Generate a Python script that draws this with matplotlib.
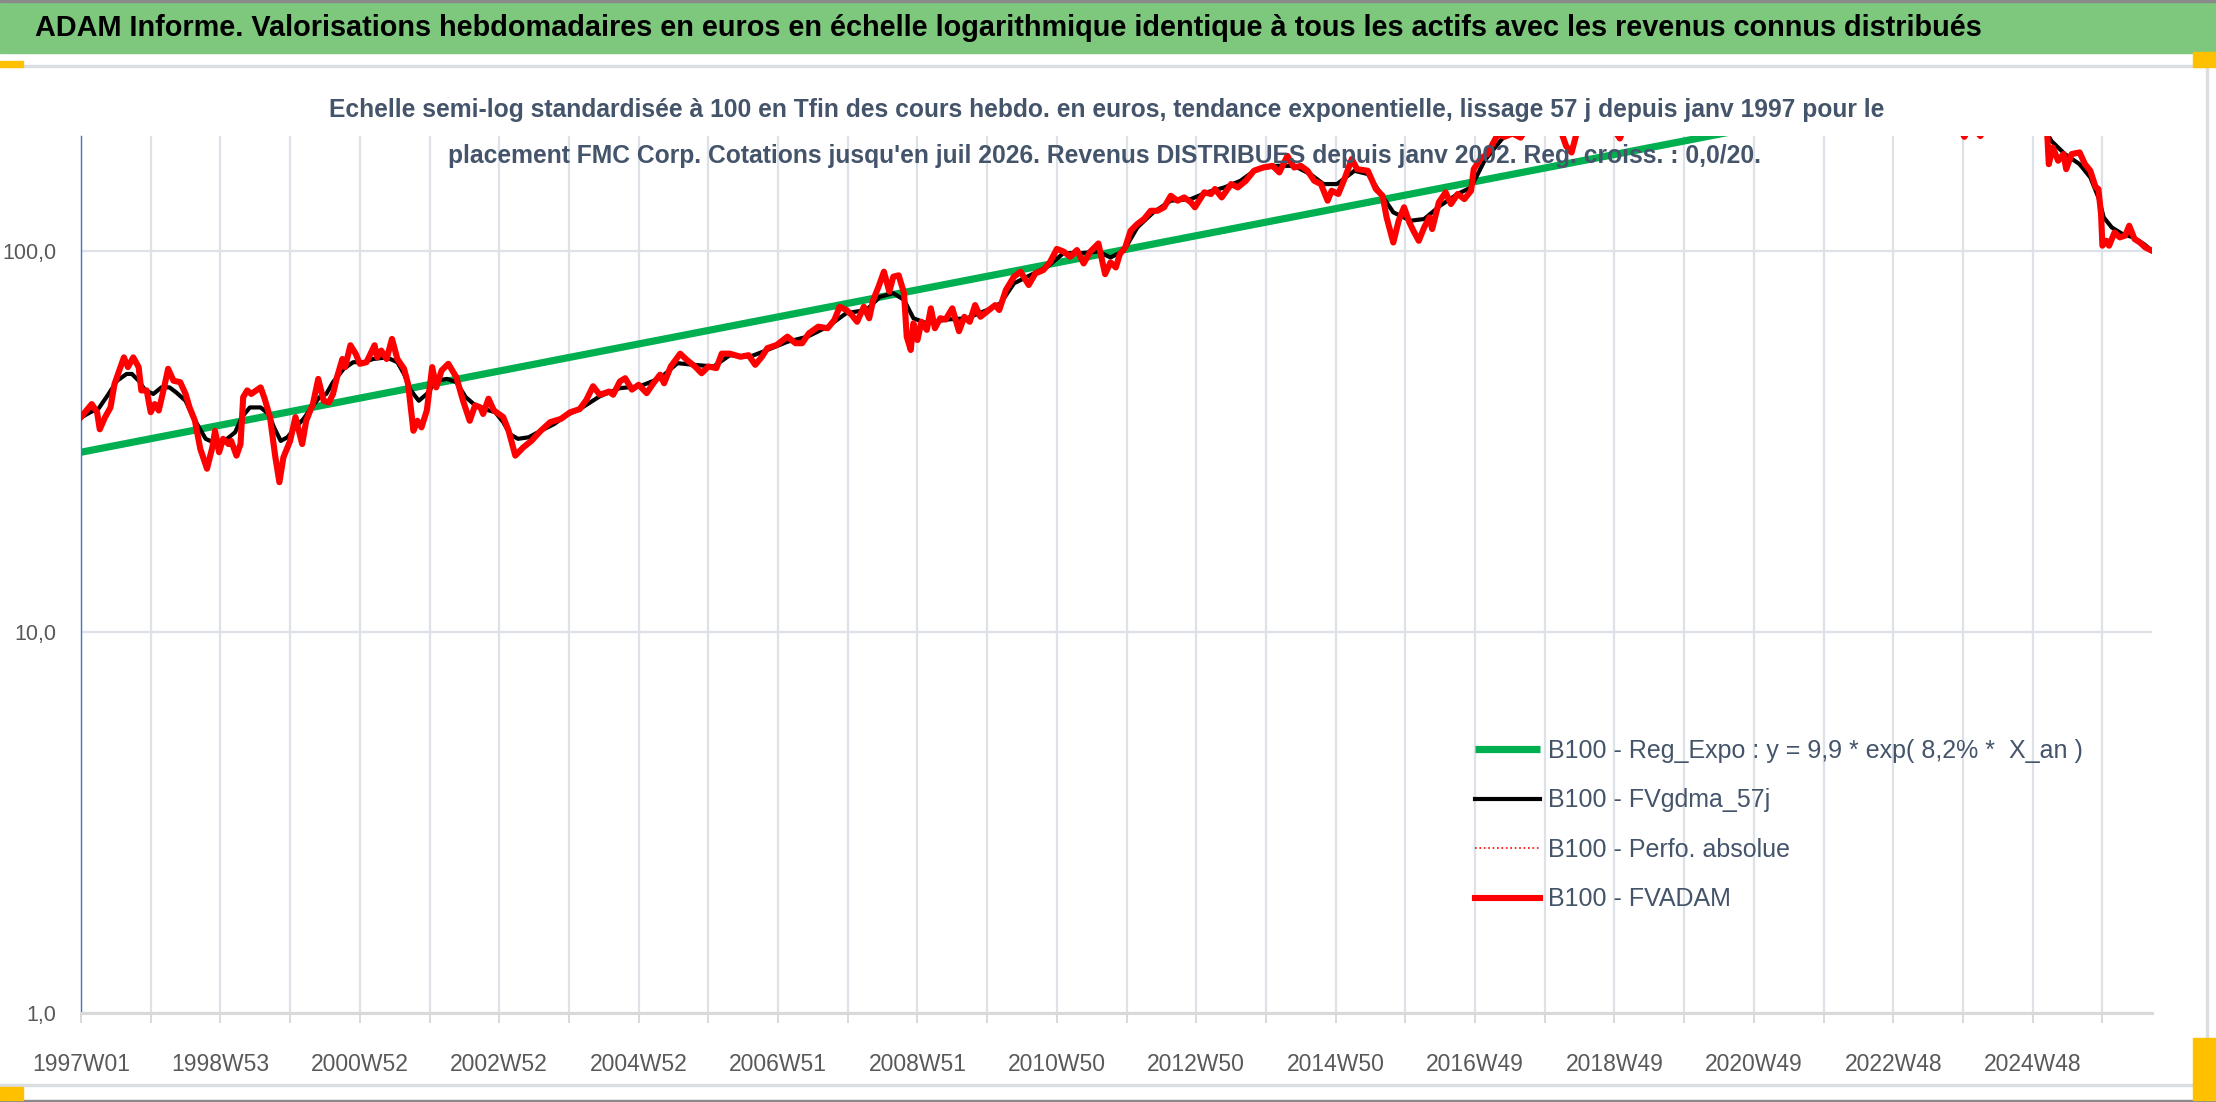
import matplotlib
matplotlib.use("Agg")
import matplotlib.pyplot as plt
from matplotlib.patches import Rectangle
from matplotlib.ticker import FixedLocator, NullLocator, NullFormatter

plt.rcParams["font.family"] = ["Liberation Sans Narrow", "Liberation Sans", "DejaVu Sans"]

W, H = 2216, 1102

# --- données (semaine depuis 1997W01, base 100 en fin) ---
semaines_fvadam = [0, 8, 12, 14, 18, 22, 25, 32, 35, 39, 43, 45, 49, 52, 55, 58, 62, 65, 69, 74, 78, 81, 85, 89, 94,
                   98, 100, 103, 106, 110, 112, 116, 119, 121, 124, 127, 134, 137, 141, 145, 148, 151, 156, 160, 165,
                   168, 173, 177, 181, 185, 188, 191, 195, 197, 201, 205, 208, 213, 219, 221, 224, 228, 232, 236, 241,
                   244, 248, 251, 254, 258, 262, 265, 269, 274, 280, 285, 290, 294, 298, 300, 304, 308, 315, 319, 324,
                   330, 336, 343, 350, 358, 365, 372, 377, 382, 387, 394, 397, 402, 406, 411, 416, 422, 427, 432, 435,
                   440, 447, 452, 458, 463, 468, 474, 478, 484, 492, 498, 503, 508, 512, 519, 527, 533, 538, 543, 550,
                   557, 562, 566, 571, 575, 579, 584, 588, 591, 595, 599, 603, 606, 610, 614, 616, 619, 621, 624, 627,
                   631, 634, 637, 641, 645, 650, 655, 659, 663, 667, 671, 676, 682, 685, 690, 696, 701, 707, 712, 718,
                   723, 728, 733, 738, 743, 748, 753, 759, 764, 768, 772, 775, 779, 783, 788, 793, 798, 803, 808, 813,
                   818, 823, 828, 831, 838, 843, 846, 851, 858, 863, 869, 875, 882, 889, 894, 900, 905, 910, 915, 920,
                   925, 930, 933, 938, 943, 948, 952, 960, 966, 971, 974, 979, 983, 987, 991, 994, 998, 1002, 1006,
                   1008, 1013, 1018, 1022, 1027, 1032, 1037, 1039, 1044, 1049, 1053, 1057, 1062, 1068, 1074, 1080,
                   1090, 1100, 1108, 1112, 1116, 1125, 1135, 1142, 1148, 1152, 1165, 1180, 1200, 1215, 1225, 1245,
                   1265, 1285, 1305, 1325, 1345, 1365, 1385, 1398, 1405, 1410, 1417, 1425, 1440, 1455, 1466, 1468,
                   1471, 1475, 1479, 1481, 1485, 1491, 1495, 1499, 1503, 1505, 1507, 1508, 1511, 1513, 1517, 1521,
                   1525, 1528, 1532, 1536, 1540, 1545]
fvadam = [36.6, 39.6, 37.7, 34.0, 36.6, 38.8, 44.7, 52.5, 49.5, 52.5, 49.5, 43.0, 43.0, 37.7, 39.6, 38.1, 43.8, 49.0,
          45.6, 45.2, 42.1, 38.8, 35.8, 30.2, 26.8, 30.5, 33.7, 29.6, 32.1, 31.1, 31.7, 29.0, 31.1, 41.3, 43.0, 42.1,
          43.8, 40.9, 36.6, 28.7, 24.7, 28.7, 31.7, 36.6, 31.1, 35.8, 39.6, 46.1, 40.4, 40.0, 42.1, 46.6, 52.0, 49.5,
          56.5, 53.6, 50.5, 51.0, 56.5, 52.5, 54.7, 52.0, 58.7, 52.0, 49.0, 44.7, 33.7, 35.8, 34.4, 38.1, 49.5, 43.8,
          48.5, 50.5, 46.6, 40.4, 35.8, 39.3, 38.8, 37.3, 40.9, 38.1, 36.6, 33.7, 29.0, 30.5, 31.7, 33.7, 35.5, 36.2,
          37.7, 38.4, 40.6, 44.1, 41.9, 42.7, 41.9, 45.4, 46.3, 43.2, 44.5, 42.3, 44.9, 47.3, 44.9, 49.7, 53.7, 51.7,
          49.7, 47.7, 49.7, 49.2, 53.7, 53.7, 52.7, 53.2, 50.2, 52.7, 55.5, 56.6, 59.5, 57.2, 57.2, 60.7, 63.2, 62.6,
          65.8, 71.3, 69.9, 67.8, 65.1, 71.3, 66.5, 74.3, 80.5, 88.1, 78.1, 85.5, 86.2, 77.4, 59.5, 54.9, 64.5, 58.3,
          65.1, 62.0, 70.6, 62.6, 66.5, 66.0, 70.6, 61.5, 67.1, 65.1, 72.0, 67.1, 69.3, 72.0, 69.9, 78.9, 85.5, 88.1,
          81.3, 87.2, 89.0, 93.5, 101.1, 99.5, 96.4, 100.4, 92.6, 99.5, 104.5, 86.8, 93.2, 90.4, 98.0, 102.0, 112.8,
          117.5, 121.1, 127.3, 127.3, 130.0, 139.4, 135.3, 138.0, 134.0, 130.0, 142.3, 140.9, 145.2, 138.0, 149.6,
          146.6, 152.6, 162.1, 165.4, 167.0, 160.5, 177.4, 165.4, 167.0, 162.1, 152.6, 149.6, 135.3, 143.7, 140.9,
          155.7, 174.0, 163.7, 162.1, 145.2, 139.4, 122.3, 105.1, 119.9, 130.0, 118.7, 112.8, 106.2, 115.1, 122.3,
          114.0, 134.0, 142.3, 132.6, 140.9, 136.6, 143.7, 163.7, 174.0, 179.3, 190.4, 202.0, 199.0, 203.0, 198.0,
          215.0, 240.0, 226.0, 188.0, 181.0, 205.0, 240.0, 232.0, 212.0, 197.0, 214.0, 258.0, 290.0, 278.0, 245.0,
          285.0, 320.0, 350.0, 380.0, 395.0, 360.0, 330.0, 290.0, 250.0, 222.0, 199.0, 214.0, 200.0, 228.0, 262.0,
          248.0, 232.0, 168.7, 186.6, 172.2, 179.3, 163.7, 179.3, 181.1, 168.7, 162.1, 146.6, 145.2, 124.8, 103.1,
          106.2, 103.1, 111.6, 108.4, 109.6, 116.3, 107.3, 105.1, 102.0, 100.0]

semaines_gdma = [0, 7, 13, 19, 27, 34, 38, 43, 48, 54, 60, 66, 71, 78, 83, 88, 93, 99, 109, 115, 120, 126, 134, 140,
                 144, 149, 154, 160, 166, 172, 178, 183, 188, 196, 203, 211, 218, 228, 236, 241, 246, 252, 258, 265,
                 273, 280, 287, 293, 300, 309, 315, 320, 326, 334, 343, 353, 362, 372, 387, 402, 417, 432, 445, 457,
                 472, 484, 499, 512, 527, 542, 557, 571, 586, 596, 606, 614, 621, 631, 646, 661, 676, 686, 696, 708,
                 721, 733, 746, 759, 768, 778, 788, 800, 813, 828, 840, 853, 865, 877, 892, 905, 917, 927, 937, 950,
                 960, 969, 979, 992, 1002, 1014, 1027, 1037, 1047, 1059, 1065, 1080, 1100, 1115, 1130, 1150, 1180,
                 1210, 1250, 1290, 1320, 1360, 1400, 1420, 1450, 1465, 1470, 1480, 1491, 1499, 1505, 1509, 1515,
                 1523, 1531, 1539, 1545]
fvgdma_57j = [36.5, 37.7, 38.5, 41.3, 45.6, 47.5, 47.5, 45.6, 43.0, 42.1, 43.8, 43.8, 42.5, 40.4, 37.0, 34.4, 32.1,
              31.4, 32.1, 33.4, 36.6, 38.8, 38.8, 37.3, 34.4, 31.7, 32.4, 34.4, 36.2, 38.8, 41.3, 42.1, 45.2, 49.0,
              51.0, 51.0, 52.0, 52.5, 51.0, 47.5, 43.0, 40.4, 42.1, 45.6, 46.1, 45.2, 41.3, 39.6, 38.5, 37.7, 35.5,
              33.0, 32.1, 32.4, 33.7, 35.1, 37.0, 38.4, 41.5, 43.6, 44.1, 46.3, 50.7, 50.2, 49.7, 53.2, 52.7, 54.9,
              57.7, 59.5, 63.2, 68.6, 69.9, 75.7, 77.4, 74.3, 66.5, 64.5, 66.0, 66.5, 69.9, 72.8, 82.1, 86.2, 90.8,
              98.6, 98.6, 99.5, 96.0, 100.0, 115.1, 126.1, 135.3, 136.6, 142.3, 146.6, 152.6, 163.7, 167.0, 167.0,
              158.9, 149.6, 149.6, 162.1, 158.9, 142.3, 126.1, 119.9, 121.1, 131.3, 140.9, 146.6, 172.2, 194.4,
              205.0, 216.0, 222.0, 214.0, 226.0, 228.0, 268.0, 275.0, 315.0, 370.0, 368.0, 300.0, 232.0, 226.0,
              236.0, 208.0, 194.0, 179.3, 168.7, 155.7, 138.0, 122.3, 115.1, 110.6, 108.4, 104.1, 100.0]

# régression exponentielle : deux extrémités
semaines_reg = [0, 1545]
reg_expo = [29.6, 336.0]

etiquettes_x = ["1997W01", "1998W53", "2000W52", "2002W52", "2004W52", "2006W51", "2008W51", "2010W50",
                "2012W50", "2014W50", "2016W49", "2018W49", "2020W49", "2022W48", "2024W48"]
valeurs_y = [1, 10, 100]
etiquettes_y = ["1,0", "10,0", "100,0"]

titre = ("ADAM Informe. Valorisations hebdomadaires en euros en échelle logarithmique identique "
         "à tous les actifs avec les revenus connus distribués")
sous_titre_1 = ("Echelle semi-log standardisée à 100 en Tfin des cours hebdo. en euros, tendance exponentielle, "
                "lissage 57 j depuis janv 1997 pour le")
sous_titre_2 = ("placement FMC Corp. Cotations jusqu'en juil 2026. Revenus DISTRIBUES depuis janv 2002. "
                "Reg. croiss. : 0,0/20.")
noms = ["B100 - Reg_Expo : y = 9,9 * exp( 8,2% *  X_an )", "B100 - FVgdma_57j",
        "B100 - Perfo. absolue", "B100 - FVADAM"]

GRIS_TXT = "#44546A"

fig = plt.figure(figsize=(W / 100, H / 100), dpi=100)
fig.patch.set_facecolor("white")

def fx(px):
    return px / W

def fy(py):
    return 1 - py / H

# bandeau vert et cadres
fig.patches.append(Rectangle((0, fy(53)), 1, 53 / H, transform=fig.transFigure, color="#7DC87D", zorder=0))
fig.patches.append(Rectangle((0, fy(2)), 1, 2 / H, transform=fig.transFigure, color="#8A8A8A", zorder=1))
fig.patches.append(Rectangle((0, fy(67)), fx(2207), 2 / H, transform=fig.transFigure, color="#DADDE2", zorder=1))
fig.patches.append(Rectangle((0, fy(1086)), fx(2207), 2 / H, transform=fig.transFigure, color="#DADDE2", zorder=1))
fig.patches.append(Rectangle((fx(2206), fy(1086)), 2 / W, (1086 - 66) / H, transform=fig.transFigure,
                             color="#DADDE2", zorder=1))
fig.patches.append(Rectangle((0, fy(1102)), 1, 2 / H, transform=fig.transFigure, color="#8A8A8A", zorder=1))
for (x0, y0, x1, y1) in [(0, 61, 23, 67), (2193, 52, 2216, 67), (0, 1087, 23, 1100), (2193, 1038, 2216, 1100)]:
    fig.patches.append(Rectangle((fx(x0), fy(y1)), (x1 - x0) / W, (y1 - y0) / H, transform=fig.transFigure,
                                 color="#FFC000", zorder=2))

ax = fig.add_axes([fx(81), fy(1013), fx(2152 - 81), (1013 - 136) / H])
ax.set_facecolor("white")

ax.plot(semaines_reg, reg_expo, color="#00B050", lw=5.2, solid_capstyle="butt", label=noms[0], zorder=2)
ax.plot(semaines_gdma, fvgdma_57j, color="black", lw=3.0, label=noms[1], zorder=3)
ax.plot(semaines_fvadam, fvadam, color="#FF0000", lw=1.2, ls=":", label=noms[2], zorder=3.5)
ax.plot(semaines_fvadam, fvadam, color="#FF0000", lw=4.4, label=noms[3], zorder=4, solid_joinstyle="round")

ax.set_yscale("log")
ax.set_ylim(1, 200)
ax.set_xlim(0, 1545)
ax.yaxis.set_major_locator(FixedLocator(valeurs_y))
ax.yaxis.set_minor_locator(NullLocator())
ax.yaxis.set_minor_formatter(NullFormatter())
ax.set_yticklabels(etiquettes_y)

pos_grille = list(range(0, 1546, 52))
ax.set_xticks(pos_grille)
ax.set_xticklabels([etiquettes_x[i // 2] if i % 2 == 0 else "" for i in range(len(pos_grille))])

ax.grid(True, color="#DDE2E9", lw=1.6, zorder=0)
ax.set_axisbelow(True)
for s in ["top", "right"]:
    ax.spines[s].set_visible(False)
ax.spines["left"].set_color("#4472C4")
ax.spines["left"].set_linewidth(1.0)
ax.spines["bottom"].set_color("#D9D9D9")
ax.spines["bottom"].set_linewidth(2.2)
ax.tick_params(axis="x", direction="out", length=7, width=1.4, color="#D9D9D9", pad=22,
               labelsize=16.5, labelcolor="#595959")
ax.tick_params(axis="y", length=0, pad=18, labelsize=15.5, labelcolor="#595959")

leg = ax.legend(loc="upper left", bbox_to_anchor=(fx(1475), fy(739)), bbox_transform=fig.transFigure,
                frameon=False, fontsize=18, handlelength=2.6, handletextpad=0.3, labelspacing=1.02,
                borderpad=0, borderaxespad=0, labelcolor=GRIS_TXT)

t_titre = fig.text(fx(35), fy(28), titre, ha="left", va="center", fontsize=24, fontweight="bold", color="black")
t_s1 = fig.text(fx(1107), fy(110), sous_titre_1, ha="center", va="center", fontsize=17, fontweight="bold",
                color=GRIS_TXT)
t_s2 = fig.text(fx(1105), fy(156), sous_titre_2, ha="center", va="center", fontsize=17, fontweight="bold",
                color=GRIS_TXT)

# ajuste la taille des textes à la largeur observée
fig.canvas.draw()
rend = fig.canvas.get_renderer()
for t, largeur in [(t_titre, 1953), (t_s1, 1559), (t_s2, 1315)]:
    bb = t.get_window_extent(rend)
    t.set_fontsize(t.get_fontsize() * largeur / bb.width)

fig.savefig("out.png", dpi=100, facecolor="white")
